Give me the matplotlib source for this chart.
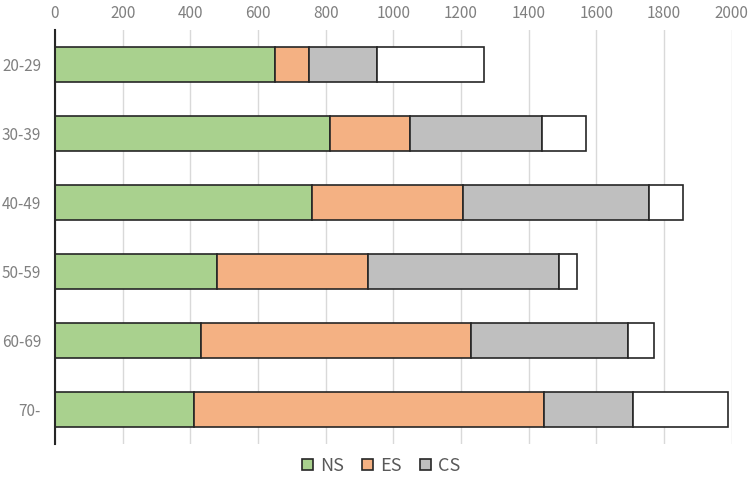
import matplotlib.pyplot as plt
import numpy as np

plt.rcParams['font.family'] = ['Noto Sans CJK JP', 'DejaVu Sans']

# age groups, top to bottom
groups = ['20-29', '30-39', '40-49', '50-59', '60-69', '70-']
ns = [651, 813, 760, 480, 431, 412]
es = [101, 236, 447, 444, 798, 1032]
cs = [199, 390, 550, 567, 466, 264]
other = [318, 131, 100, 51, 76, 282]

labels = ['NS', 'ES', 'CS', None]
colors = ['#a9d18e', '#f4b183', '#bfbfbf', '#ffffff']
x_ticks = list(range(0, 2001, 200))

fig = plt.figure(figsize=(7.49, 4.88), dpi=100)
ax = fig.add_axes([0.0734, 0.0902, 0.9035, 0.8483])

y = np.arange(len(groups))
left = np.zeros(len(groups))
for vals, lab, col in zip([ns, es, cs, other], labels, colors):
    ax.barh(y, vals, left=left, height=0.5, color=col, edgecolor='#262626',
            linewidth=1.2, label=lab, zorder=3)
    left += np.array(vals)

ax.set_xlim(0, 2000)
ax.set_ylim(len(groups) - 0.5, -0.5)
ax.set_yticks(y)
ax.set_yticklabels(groups)
ax.set_xticks(x_ticks)
ax.xaxis.tick_top()
ax.tick_params(axis='x', length=0, pad=6, labelsize=11, labelcolor='#808080')
ax.tick_params(axis='y', length=0, pad=10, labelsize=11, labelcolor='#808080')
ax.grid(axis='x', color='#d9d9d9', linewidth=1, zorder=0)

for s in ['top', 'right', 'bottom']:
    ax.spines[s].set_visible(False)
ax.spines['left'].set_color('#262626')
ax.spines['left'].set_linewidth(1.5)
ax.spines['left'].set_zorder(4)

handles, labs = ax.get_legend_handles_labels()
leg = fig.legend(handles[:3], labs[:3], loc='center', bbox_to_anchor=(0.509, 0.045),
                 ncol=3, frameon=False, fontsize=13, handlelength=0.6,
                 handleheight=0.6, handletextpad=0.4, columnspacing=1.0)
for t in leg.get_texts():
    t.set_color('#595959')

fig.savefig('out.png', dpi=100)
